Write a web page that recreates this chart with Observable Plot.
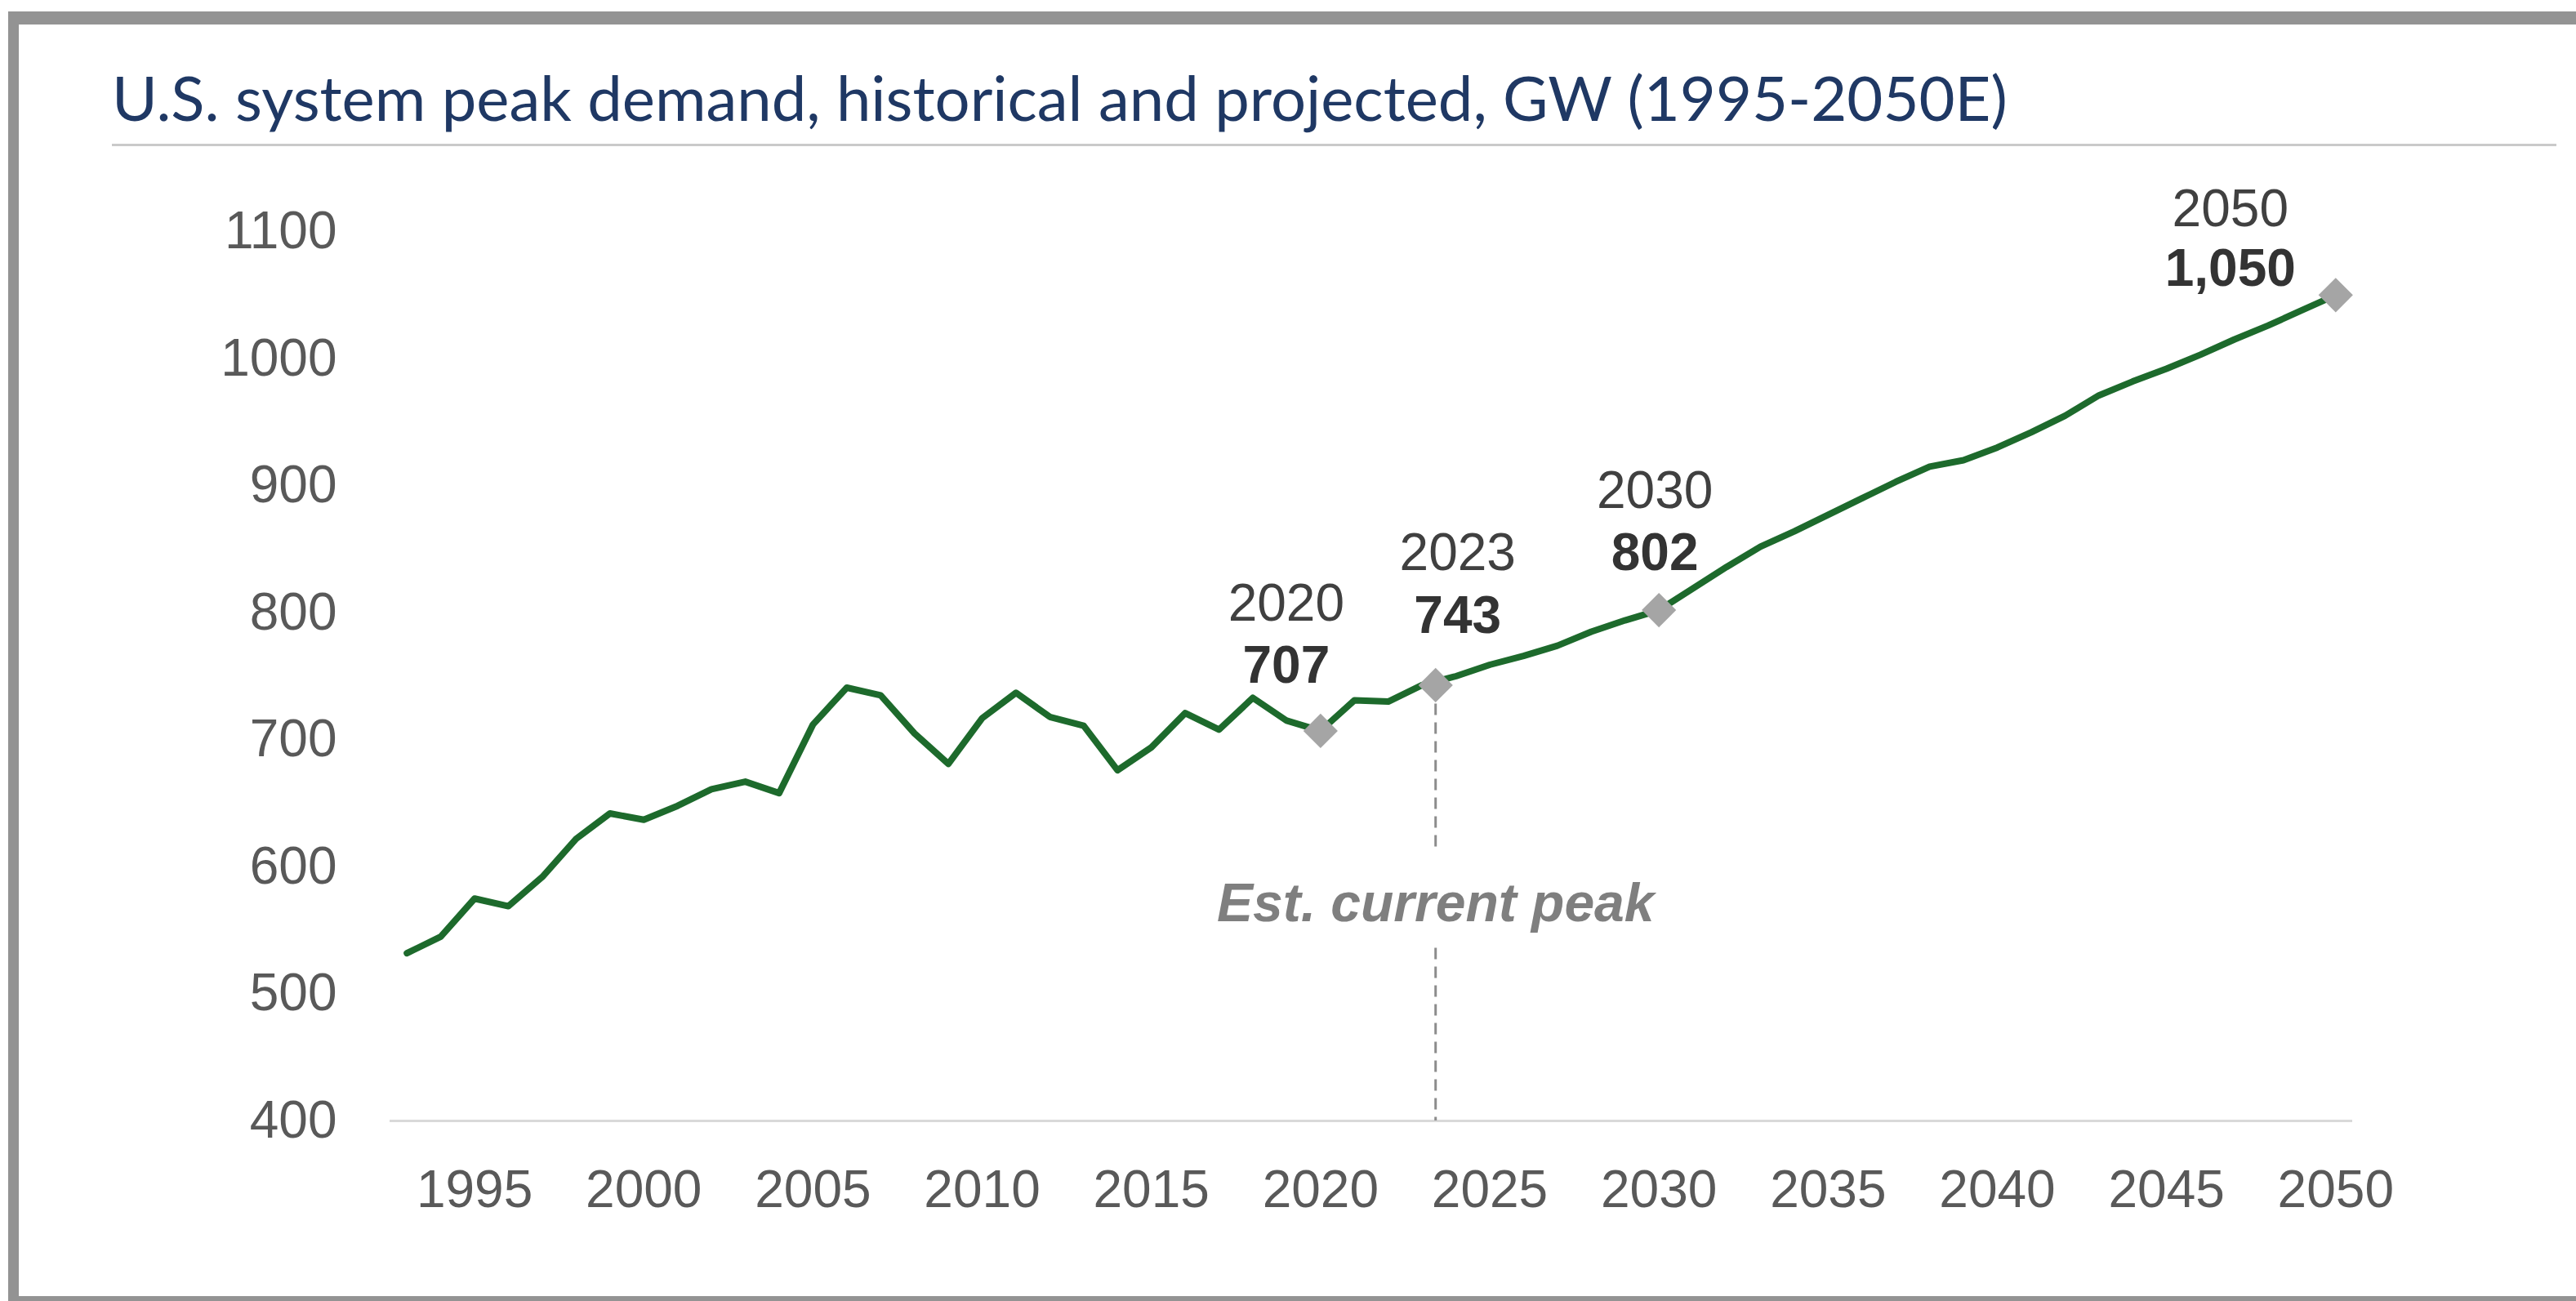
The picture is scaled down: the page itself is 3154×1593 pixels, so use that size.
<!DOCTYPE html>
<html>
<head>
<meta charset="utf-8">
<script src="https://cdn.jsdelivr.net/npm/d3@7"></script>
<script src="https://cdn.jsdelivr.net/npm/@observablehq/plot@0.6"></script>
<style>
  html, body { margin: 0; padding: 0; background: #ffffff; width: 3154px; height: 1593px; overflow: hidden; }
  body { position: relative; }
  .band { position: absolute; background: #939393; }
  #title { position: absolute; left: 137px; top: 81px; font-family: Lato, "Open Sans", sans-serif; font-size: 76px; line-height: 76px; color: #1f3864; white-space: nowrap; }
  #titleRule { position: absolute; left: 137px; top: 176px; width: 2993px; height: 3px; background: #cacaca; }
  #chart { position: absolute; left: 0; top: 180px; }
</style>
</head>
<body>
<div class="band" style="left:10px;top:14px;width:3144px;height:16px"></div>
<div class="band" style="left:10px;top:14px;width:13px;height:1579px"></div>
<div class="band" style="left:10px;top:1587px;width:3144px;height:6px"></div>
<div id="title">U.S. system peak demand, historical and projected, GW (1995-2050E)</div>
<div id="titleRule"></div>
<div id="chart"></div>
<script>
// ---- data ----
const years = [1993, 1994, 1995, 1996, 1997, 1998, 1999, 2000, 2001, 2002,
               2003, 2004, 2005, 2006, 2007, 2008, 2009, 2010, 2011, 2012,
               2013, 2014, 2015, 2016, 2017, 2018, 2019, 2020, 2021, 2022,
               2023, 2024, 2025, 2026, 2027, 2028, 2029, 2030, 2031, 2032,
               2033, 2034, 2035, 2036, 2037, 2038, 2039, 2040, 2041, 2042,
               2043, 2044, 2045, 2046, 2047, 2048, 2049, 2050];
const peakGW = [532, 545, 575, 569, 592, 622, 642, 637, 648, 661,
                667, 658, 712, 741, 735, 705, 681, 717, 737, 718,
                711, 676, 694, 721, 708, 733, 715, 707, 731, 730,
                743, 750, 759, 766, 774, 785, 794, 802, 819, 836,
                852, 864, 877, 890, 903, 915, 920, 930, 942, 955,
                971, 982, 992, 1003, 1015, 1026, 1038, 1050];

// highlighted points
const markerYear = [2020, 2023.4, 2030, 2050];
const markerLabel = ["2020", "2023", "2030", "2050"];
const markerValue = [707, 743, 802, 1050];

// "Est. current peak" reference line pieces (GW)
const currentPeakYear = 2023.4;
const dashFrom = [743, 536];
const dashTo = [612, 400];
const currentPeakText = "Est. current peak";

const xTicks = [1995, 2000, 2005, 2010, 2015, 2020, 2025, 2030, 2035, 2040, 2045, 2050];
const yTicks = [400, 500, 600, 700, 800, 900, 1000, 1100];

// ---- tables built from the arrays ----
const series = years.map((y, i) => ({year: y, value: peakGW[i]}));
const markers = markerYear.map((y, i) => ({year: y, label: markerLabel[i], value: markerValue[i]}));
const dashes = dashFrom.map((v, i) => ({x: currentPeakYear, y1: v, y2: dashTo[i]}));

// label offsets (px) per highlighted point: [dx, dyYear, dyValue]
const labelOffsets = [[-42, -155, -79], [27, -161, -84], [-5, -146, -70], [-129, -105, -32]];

const fmt = d3.format(",");
const font = "'Liberation Sans', Arial, Helvetica, sans-serif";

const annotationMarks = markers.flatMap((m, i) => {
  const [dx, dyY, dyV] = labelOffsets[i];
  return [
    Plot.text([m], {x: "year", y: "value", text: "label", dx, dy: dyY, fontSize: 64, fill: "#404040", textAnchor: "middle", lineAnchor: "middle"}),
    Plot.text([m], {x: "year", y: "value", text: d => fmt(d.value), dx, dy: dyV, fontSize: 64, fontWeight: "bold", fill: "#333333", textAnchor: "middle", lineAnchor: "middle"})
  ];
});

const chart = Plot.plot({
  width: 3154,
  height: 1380,
  marginLeft: 477,
  marginRight: 274,
  marginTop: 103,
  marginBottom: 188,
  x: {domain: [1992.5, 2050.5], label: null},
  y: {domain: [400, 1100], label: null},
  style: {fontFamily: font, fontSize: "64px", background: "transparent", overflow: "visible"},
  marks: [
    Plot.ruleY([400], {stroke: "#d9d9d9", strokeWidth: 3}),
    Plot.axisY({ticks: yTicks, tickSize: 0, tickPadding: 65, color: "#595959", tickFormat: d => String(d), label: null}),
    Plot.axisX({ticks: xTicks, tickSize: 0, tickPadding: 60, color: "#595959", tickFormat: d => String(d), label: null}),
    Plot.ruleX(dashes, {x: "x", y1: "y1", y2: "y2", stroke: "#8c8c8c", strokeWidth: 3, strokeDasharray: "14,9"}),
    Plot.text([currentPeakText], {x: () => currentPeakYear, y: () => 571, text: d => d, fontSize: 66, fontStyle: "italic", fontWeight: "bold", fill: "#7f7f7f", textAnchor: "middle", lineAnchor: "middle"}),
    Plot.line(series, {x: "year", y: "value", stroke: "#1d6a2c", strokeWidth: 8, strokeLinejoin: "round", strokeLinecap: "round"}),
    Plot.dot(markers, {x: "year", y: "value", symbol: "diamond2", r: 19, fill: "#a5a5a5", stroke: "none"}),
    ...annotationMarks
  ]
});
document.getElementById("chart").appendChild(chart);
</script>
</body>
</html>
